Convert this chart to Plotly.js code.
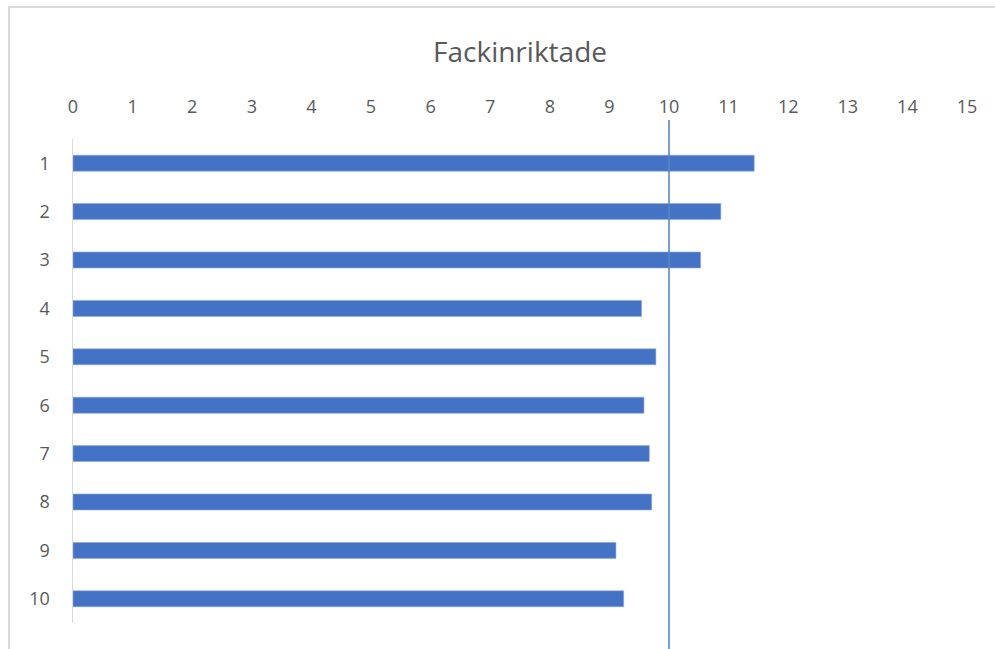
<!DOCTYPE html>
<html>
<head>
<meta charset="utf-8">
<script src="https://cdn.plot.ly/plotly-3.0.1.min.js"></script>
<style>
  html, body { margin: 0; padding: 0; background: #ffffff; overflow: hidden; }
  #wrap { position: relative; width: 995px; height: 649px; }
  #chart { width: 995px; height: 649px; }
  #frame { position: absolute; left: 8px; top: 6px; width: 1000px; height: 700px;
           border-left: 2px solid #d9d9d9; border-top: 2px solid #d9d9d9; pointer-events: none; }
</style>
</head>
<body>
<div id="wrap">
  <div id="chart"></div>
  <div id="frame"></div>
</div>
<script>
const categories = ["1", "2", "3", "4", "5", "6", "7", "8", "9", "10"];
const values = [11.43, 10.87, 10.53, 9.54, 9.78, 9.58, 9.67, 9.71, 9.11, 9.24];
const xTicks = [0, 1, 2, 3, 4, 5, 6, 7, 8, 9, 10, 11, 12, 13, 14, 15];
const referenceValue = 10;
const chartTitle = "Fackinriktade";

const fontFamily = "'Open Sans', sans-serif";

const trace = {
  type: 'bar',
  orientation: 'h',
  x: values,
  y: categories,
  marker: { color: '#4472C4', line: { color: '#8faadc', width: 0.6 } },
  hoverinfo: 'x+y'
};

const layout = {
  width: 995,
  height: 649,
  margin: { l: 73, r: 27.5, t: 139, b: 26 },
  paper_bgcolor: '#ffffff',
  plot_bgcolor: '#ffffff',
  title: {
    text: chartTitle,
    font: { family: fontFamily, size: 28, color: '#595959' },
    x: 0.5, xref: 'paper', xanchor: 'center',
    y: 1 - 52 / 649, yref: 'container', yanchor: 'middle'
  },
  bargap: 0.67,
  showlegend: false,
  xaxis: {
    side: 'top',
    range: [0, 15],
    tickvals: xTicks,
    ticktext: xTicks.map(String),
    showgrid: false,
    zeroline: false,
    showline: false,
    ticks: '',
    ticklabelstandoff: 21,
    tickfont: { family: fontFamily, size: 18, color: '#595959' },
    fixedrange: true
  },
  yaxis: {
    type: 'category',
    autorange: 'reversed',
    showgrid: false,
    zeroline: false,
    showline: true,
    linecolor: '#d9d9d9',
    linewidth: 1.5,
    ticks: '',
    ticklabelstandoff: 18,
    tickfont: { family: fontFamily, size: 18, color: '#595959' },
    fixedrange: true
  },
  shapes: [
    {
      type: 'line',
      xref: 'x', yref: 'paper',
      x0: referenceValue, x1: referenceValue,
      y0: -0.1, y1: 1.039,
      line: { color: '#5a86c6', width: 1.6 }
    }
  ]
};

Plotly.newPlot('chart', [trace], layout, { displayModeBar: false, staticPlot: true });
</script>
</body>
</html>
